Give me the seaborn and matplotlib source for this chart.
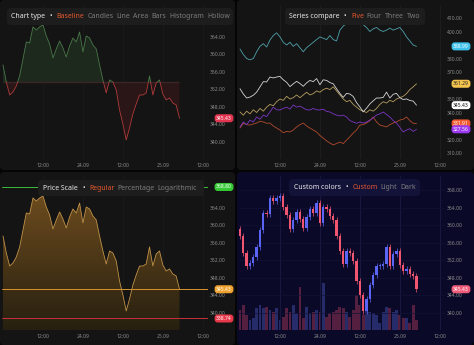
import numpy as np
import pandas as pd
import matplotlib
matplotlib.use("Agg")
import matplotlib.pyplot as plt
import seaborn as sns
from matplotlib.patches import FancyBboxPatch, Rectangle
from matplotlib.transforms import IdentityTransform, blended_transform_factory
from matplotlib.text import Annotation
from matplotlib.colors import LinearSegmentedColormap

# ---------------- data ----------------
hours = list(range(54))
price = [357.60, 353.70, 350.74, 351.43, 352.80, 355.09, 358.97, 362.86, 362.63, 366.29,
         365.60, 366.29, 366.74, 364.23, 362.40, 359.20, 361.26, 363.09, 361.49, 359.43,
         361.94, 363.77, 362.86, 365.14, 360.57, 364.23, 363.77, 362.17, 361.26, 357.60,
         354.17, 351.20, 354.17, 353.71, 351.89, 347.31, 344.11, 340.46, 343.20, 346.40,
         348.69, 350.74, 350.74, 351.20, 355.09, 350.74, 353.49, 354.17, 350.97, 349.60,
         350.06, 348.91, 348.46, 345.43]
series_five = [387, 383, 380, 379, 380, 385, 389, 391, 388.5, 393.7,
               397, 399, 396, 392, 390, 392, 389, 391, 388, 385,
               388, 390, 392, 394, 396, 395, 394, 397, 394, 393,
               401, 404, 406, 407, 408, 407, 406, 405, 403, 400,
               402, 403, 401, 400, 401, 402.5, 401, 402, 403, 400,
               396, 393, 390, 388.99]
series_four = [340.4, 338, 341, 339, 342, 340, 343, 341, 344, 346,
               345, 348, 350, 349, 352, 350, 351, 353, 351, 353,
               355, 353, 354, 356, 355, 357, 358, 357, 359, 356,
               353, 350, 348, 349, 346, 344, 342, 341, 340, 342,
               341, 343, 346, 348, 347, 349, 348, 350, 351, 352,
               354, 357, 359, 361.29]
series_three = [328.5, 332, 331, 330.7, 331.5, 332.2, 333.5, 333, 332, 332.2,
                330, 328.5, 327, 325, 326, 325.6, 327, 329.3, 331, 332.2,
                330, 328.5, 327, 325.6, 323, 321, 319, 317.4, 316, 317,
                318.1, 317, 319.6, 322, 324.8, 327, 330.7, 331, 332.2, 334,
                336.7, 333, 330.7, 330, 329.3, 331, 332.2, 333, 334.4, 335,
                336.7, 334, 332, 331.91]
series_two = [329.3, 333, 331, 334.4, 333, 336.7, 335, 338.1, 337, 340.4,
              344, 342, 341.9, 343, 344, 342.5, 345.6, 344, 344.8, 343.3,
              342, 341.9, 343, 342, 341.9, 342.5, 340.8, 340.4, 339, 338.1,
              337.5, 338, 336.7, 334, 333, 332, 333, 332.2, 333, 334.4,
              336, 338.1, 339, 340.4, 338.5, 336.7, 334, 332.2, 329, 325.6,
              327, 328, 326, 327.56]
volume = [20, 25, 15, 10, 12, 22, 25, 22, 23, 20,
          18, 22, 10, 13, 22, 18, 25, 17, 43, 12,
          23, 17, 18, 20, 18, 47, 13, 17, 18, 20,
          23, 22, 18, 13, 20, 35, 25, 15, 28, 18,
          17, 15, 7, 18, 23, 22, 18, 20, 15, 12,
          12, 7, 25, 10]
first_open = 359.2
baseline_value = 353.71
price_line_top = 368.80
price_line_low = 338.74
time_ticks = [12, 24, 36, 48, 60]
time_labels = ["12:00", "24.09", "12:00", "25.09", "12:00"]
ticks_a = [340, 344, 348, 352, 356, 360, 364]
ticks_b = [310, 320, 330, 340, 350, 360, 370, 380, 390, 400, 410]
hidden_b = [330, 360, 390]
ticks_c = [340, 344, 348, 352, 356, 360, 364, 368]

# ---------------- style ----------------
sns.set_theme(style="dark")
plt.rcParams['font.family'] = ['Noto Sans', 'DejaVu Sans']

W, H = 474, 345
fig = plt.figure(figsize=(W / 100, H / 100), dpi=100)
fig.patch.set_facecolor('#050505')

WHITE = '#e8e8e8'
ACTIVE = '#e4572e'
GREY = '#7c7c7c'
TICKC = '#8c8c8c'
TS = 3.6
FS = 5.0


def rect_px(x0, y0, w, h):
    return [x0 / W, 1 - (y0 + h) / H, w / W, h / H]


def rounded(x0, y0, w, h, color, r=4, z=-5):
    p = FancyBboxPatch((x0, H - y0 - h), w, h,
                       boxstyle=f"round,pad=0,rounding_size={r}",
                       transform=IdentityTransform(), facecolor=color,
                       edgecolor='none', zorder=z)
    fig.add_artist(p)


def style_ax(ax, ylim, yticks, gridc, hidden=()):
    ax.set_facecolor('none')
    ax.set_xlim(-0.3, 61.56)
    ax.set_ylim(*ylim)
    ax.set_xticks(time_ticks)
    ax.set_xticklabels(time_labels)
    ax.set_yticks(yticks)
    ax.set_yticklabels(["" if v in hidden else f"{v:.2f}" for v in yticks])
    ax.yaxis.tick_right()
    ax.tick_params(axis='x', length=0, pad=3.0, labelsize=TS, labelcolor=TICKC)
    ax.tick_params(axis='y', length=0, pad=1.2, labelsize=TS, labelcolor=TICKC)
    for s in ax.spines.values():
        s.set_visible(False)
    ax.grid(False)
    for t in time_ticks:
        ax.axvline(t, color=gridc, lw=0.6, zorder=0)
    ax.set_xlabel('')
    ax.set_ylabel('')


def badge(ax, value, text, bg, fg='white'):
    tr = blended_transform_factory(ax.transAxes, ax.transData)
    ax.text(1.0777, value, text, transform=tr, ha='center', va='center',
            fontsize=TS, color=fg, fontweight='bold',
            bbox=dict(boxstyle='round,pad=0.3,rounding_size=0.6', fc=bg, ec='none'),
            clip_on=False, zorder=10)


def title(x0, yc, parts, fs=FS):
    # parts: (text, colour, bold, gap before in points)
    s, c, b, g = parts[0]
    prev = fig.text(x0 / W, 1 - yc / H, s, color=c, fontsize=fs,
                    fontweight='bold' if b else 'normal', va='center', ha='left', zorder=20)
    for s, c, b, g in parts[1:]:
        a = Annotation(s, xy=(1, 0), xycoords=prev, xytext=(g, 0), textcoords='offset points',
                       color=c, fontsize=fs, fontweight='bold' if b else 'normal',
                       va='bottom', ha='left', zorder=20)
        fig.add_artist(a)
        prev = a


def parts_for(head, active, others):
    p = [(head, WHITE, True, 0), ("•", WHITE, True, 3.2), (active, ACTIVE, False, 3.2)]
    p += [(o, GREY, False, 2.2) for o in others]
    return p


# panel backgrounds
rounded(0, 0, 235, 170, '#141414')
rounded(237, 0, 237, 170, '#141414')
rounded(0, 172, 235, 173, '#141414')
rounded(237, 172, 237, 173, '#0a0a28')

x = np.array(hours, float)
y = np.array(price)

# ---------------- panel 1: baseline ----------------
ax1 = fig.add_axes(rect_px(2, 5, 206, 154))
style_ax(ax1, (336.11, 371.31), ticks_a, '#1b1b1b')
ax1.fill_between(x, y, baseline_value, where=y >= baseline_value, interpolate=True,
                 color='#1c291c', lw=0, zorder=1)
ax1.fill_between(x, y, baseline_value, where=y <= baseline_value, interpolate=True,
                 color='#2a1616', lw=0, zorder=1)
ax1.hlines(baseline_value, x[0], x[-1], color='#3b2626', lw=1.0, zorder=1.5)
sns.lineplot(x=hours, y=price, ax=ax1, color='#4a784a', linewidth=0.6, zorder=3)
ax1.lines[-1].set_clip_path(Rectangle((-5, baseline_value), 80, 60, transform=ax1.transData))
sns.lineplot(x=hours, y=price, ax=ax1, color='#b03a3a', linewidth=0.6, zorder=3)
ax1.lines[-1].set_clip_path(Rectangle((-5, baseline_value - 60), 80, 60, transform=ax1.transData))
badge(ax1, price[-1], f"{price[-1]:.2f}", '#e3344f')
ax1.set_xlabel(''); ax1.set_ylabel('')

# ---------------- panel 2: series compare ----------------
ax2 = fig.add_axes(rect_px(239, 5, 206, 154))
style_ax(ax2, (305.56, 419.63), ticks_b, '#1f1f1f', hidden_b)
compare = [(series_three, '#b34a2d', '#f0582e', 'white'),
           (series_two, '#7b36c4', '#9b38f0', 'white'),
           (series_four, '#b59d5e', '#f2c34e', '#222222'),
           (price, '#d6d6d6', '#ffffff', '#111111'),
           (series_five, '#4fa1ab', '#3fc3ea', 'white')]
for vals, lc, bc, fc in compare:
    sns.lineplot(x=hours, y=vals, ax=ax2, color=lc, linewidth=0.6, zorder=3)
for vals, lc, bc, fc in compare:
    badge(ax2, vals[-1], f"{vals[-1]:.2f}", bc, fc)
ax2.set_xlabel(''); ax2.set_ylabel('')

# ---------------- panel 3: price scale area ----------------
ax3 = fig.add_axes(rect_px(2, 176, 206, 154))
fb = ax3.fill_between(x, y, 336.11, color='none', lw=0)
grad = np.linspace(0, 1, 256).reshape(-1, 1)
cmap = LinearSegmentedColormap.from_list('amber', ['#272010', '#6c4b1e'])
im = ax3.imshow(grad, extent=[0, 53, 336.11, max(price)], origin='lower',
                aspect='auto', cmap=cmap, zorder=1)
im.set_clip_path(fb.get_paths()[0], ax3.transData)
style_ax(ax3, (336.11, 371.31), ticks_a, '#1b1b1b')
ax3.set_aspect('auto')
ax3.axhline(price_line_top, color='#3dbb3d', lw=0.7, zorder=2)
ax3.axhline(price[-1], color='#d9932b', lw=0.7, zorder=2)
ax3.axhline(price_line_low, color='#c8303c', lw=0.7, zorder=2)
sns.lineplot(x=hours, y=price, ax=ax3, color='#c09248', linewidth=0.6, zorder=3)
badge(ax3, price_line_top, f"{price_line_top:.2f}", '#36c936')
badge(ax3, price[-1], f"{price[-1]:.2f}", '#f0a22e')
badge(ax3, price_line_low, f"{price_line_low:.2f}", '#e8384a')
ax3.set_xlabel(''); ax3.set_ylabel('')

# ---------------- panel 4: candles ----------------
ax4 = fig.add_axes(rect_px(239, 176, 206, 154))
ax4v = ax4.twinx()
style_ax(ax4, (336.11, 371.31), ticks_c, '#1a1a44')
for t in ticks_c:
    ax4.axhline(t, color='#121236', lw=0.5, zorder=0)
close = np.array(price)
opn = np.r_[first_open, close[:-1]]
up = close >= opn
cols = np.where(up, '#5a64f5', '#f0566f')
vcols = np.where(up, '#262b6a', '#55203f')
lo = np.minimum(opn, close)
hi = np.maximum(opn, close)
ax4.vlines(x, lo - 0.7, hi + 0.7, colors=cols, lw=0.5, zorder=3)
ax4.bar(x, np.maximum(hi - lo, 0.2), bottom=lo, width=0.7, color=cols, lw=0, zorder=4)
ax4v.bar(x, volume, width=0.85, color=vcols, lw=0)
ax4v.set_ylim(0, max(volume) * 154 / 47)
ax4v.set_yticks([])
ax4v.set_facecolor('none')
for s in ax4v.spines.values():
    s.set_visible(False)
ax4v.set_zorder(ax4.get_zorder() - 1)
ax4v.grid(False)
badge(ax4, price[-1], f"{price[-1]:.2f}", '#ee5a78')

# ---------------- titles ----------------
rounded(7, 8, 226, 17, '#1d1d1d', r=4, z=15)
title(11, 16.5, parts_for("Chart type", "Baseline",
                          ["Candles", "Line", "Area", "Bars", "Histogram", "Hollow"]))
rounded(285, 8, 140, 17, '#1d1d1d', r=4, z=15)
title(289, 16.5, parts_for("Series compare", "Five", ["Four", "Three", "Two"]))
rounded(38, 180, 166, 16, '#1d1d1d', r=4, z=15)
title(43, 188, parts_for("Price Scale", "Regular", ["Percentage", "Logarithmic"]))
rounded(289, 179, 131, 17, '#13133a', r=4, z=15)
title(294, 187.5, parts_for("Custom colors", "Custom", ["Light", "Dark"]))

fig.savefig("out.png", dpi=100, facecolor=fig.get_facecolor())
